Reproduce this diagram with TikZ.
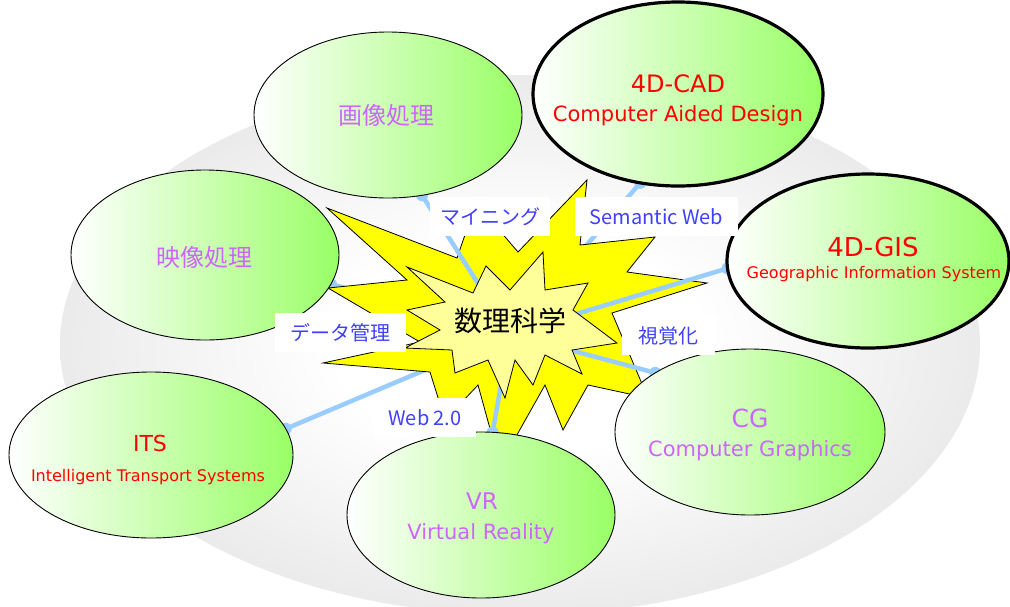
\documentclass[tikz,border=0pt]{standalone}
\usepackage{fontspec}
\setmainfont{DejaVu Sans}
\newfontfamily\jpfont{Noto Sans CJK JP}
\usetikzlibrary{shapes.geometric}

\definecolor{bubblegreen}{RGB}{153,255,102}
\definecolor{linkblue}{RGB}{153,204,255}
\definecolor{labelblue}{RGB}{64,64,255}
\definecolor{titleviolet}{RGB}{204,102,255}
\definecolor{titlered}{RGB}{255,0,0}
\definecolor{burstyellow}{RGB}{255,255,0}
\definecolor{corepale}{RGB}{255,255,153}

\pgfdeclarelayer{hazelayer}
\pgfdeclarelayer{lowlinks}
\pgfdeclarelayer{burstlayer}
\pgfdeclarelayer{highlinks}
\pgfdeclarelayer{corelayer}
\pgfsetlayers{hazelayer,lowlinks,burstlayer,highlinks,corelayer,main}

% soft grey glow behind the whole cluster
\pgfdeclareradialshading{haze}{\pgfpoint{0bp}{0bp}}{color(0bp)=(white); color(10bp)=(white); color(25bp)=(black!8); color(50bp)=(black!8)}

\tikzset{
  bubble/.style={ellipse, draw=black, line width=0.9pt, left color=white,
    right color=bubblegreen, inner sep=0pt, outer sep=0pt},
  keybubble/.style={bubble, line width=3.2pt},
  tag/.style={fill=white, inner sep=0pt, minimum height=39pt, text=labelblue,
    font=\jpfont\fontsize{20}{24}\selectfont},
  link/.style={draw=linkblue, line width=4.5pt},
  linkdot/.style={fill=linkblue},
  burst/.style={fill=burstyellow, draw=black, line width=0.8pt},
  corestar/.style={fill=corepale, draw=black, line width=0.8pt},
  jptitle/.style={text=titleviolet, inner sep=0pt,
    font=\jpfont\fontsize{24}{28}\selectfont},
  entitle/.style={anchor=base, inner sep=0pt},
}

\begin{document}
\begin{tikzpicture}[x=1pt,y=-1pt]
\useasboundingbox (0,0) rectangle (1010,606);

\begin{pgfonlayer}{hazelayer}
  \fill[white] (0,0) rectangle (1010,606);
  \shade[shading=haze] (520,345) ellipse [x radius=460pt, y radius=270pt];
\end{pgfonlayer}

% topic bubbles
\node[bubble,    minimum width=268pt, minimum height=166pt] (img) at (388,115) {};
\node[keybubble, minimum width=290pt, minimum height=184pt] (cad) at (678,94) {};
\node[bubble,    minimum width=268pt, minimum height=170pt] (vid) at (205,255) {};
\node[keybubble, minimum width=282pt, minimum height=174pt] (gis) at (868,261) {};
\node[bubble,    minimum width=284pt, minimum height=166pt] (its) at (151,455) {};
\node[bubble,    minimum width=268pt, minimum height=166pt] (vr)  at (481,515) {};
\node[bubble,    minimum width=270pt, minimum height=166pt] (cg)  at (750,432) {};

\coordinate (hub) at (510,334);

% connectors hidden behind the burst
\begin{pgfonlayer}{lowlinks}
  \draw[link] (hub) -- (its.11);
  \fill[linkdot] (its.11) circle[radius=6pt];
  \draw[link] (hub) -- (vid.347);
  \fill[linkdot] (vid.347) circle[radius=6pt];
  \draw[link] (hub) -- (cad.247);
  \fill[linkdot] (cad.247) circle[radius=6pt];
\end{pgfonlayer}

% outer burst
\begin{pgfonlayer}{burstlayer}
  \draw[burst] (327,208) -- (457,258) -- (476,203) -- (518,252) -- (587,180)
    -- (580,245) -- (655,237) -- (627,272) -- (707,283) -- (612,313)
    -- (648,398) -- (588,385) -- (563,430) -- (545,385) -- (500,465)
    -- (478,385) -- (445,420) -- (430,372) -- (323,363) -- (420,342)
    -- (328,288) -- (407,280) -- cycle;
\end{pgfonlayer}

% connectors drawn over the burst
\begin{pgfonlayer}{highlinks}
  \draw[link] (hub) -- (img.293);
  \fill[linkdot] (img.293) circle[radius=6pt];
  \draw[link] (hub) -- (gis.183);
  \fill[linkdot] (gis.183) circle[radius=6pt];
  \draw[link] (hub) -- (cg.148);
  \fill[linkdot] (cg.148) circle[radius=6pt];
  \draw[link] (hub) -- (vr.82);
  \fill[linkdot] (vr.82) circle[radius=6pt];
\end{pgfonlayer}

% inner star
\begin{pgfonlayer}{corelayer}
  \draw[corestar] (407,267) -- (473,293) -- (486,266) -- (510,290) -- (543,252)
    -- (545,290) -- (588,283) -- (573,310) -- (617,343) -- (572,350)
    -- (582,374) -- (545,355) -- (533,385) -- (515,360) -- (505,398)
    -- (488,360) -- (455,373) -- (452,350) -- (405,348) -- (440,330)
    -- (407,310) -- (445,302) -- cycle;
\end{pgfonlayer}

% connector labels
\node[tag, minimum width=120pt] (mining)   at (490,216.5) {マイニング};
\node[tag, minimum width=163pt] (semweb)   at (656.5,216.5) {Semantic Web};
\node[tag, minimum width=131pt] (datamgmt) at (340.5,332.5) {データ管理};
\node[tag, minimum width=93pt]  (visual)   at (668.5,335.5) {視覚化};
\node[tag, minimum width=102pt] (webtwo)   at (425,417.5) {Web 2.0};

% centre title
\node[inner sep=0pt, font=\jpfont\fontsize{28}{32}\selectfont] (coretext) at (510,321) {数理科学};

% bubble titles
\node[jptitle] (imgtext) at (386,115.5) {画像処理};
\node[jptitle] (vidtext) at (204,257) {映像処理};

\node[entitle, text=titlered, font=\fontsize{24}{28}\selectfont] (cadtitle) at (678,92) {4D-CAD};
\node[entitle, text=titlered, font=\fontsize{21}{25}\selectfont] (cadsub) at (678,121) {Computer Aided Design};

\node[entitle, text=titlered, font=\fontsize{26}{30}\selectfont] (gistitle) at (873,256) {4D-GIS};
\node[entitle, text=titlered, font=\fontsize{16}{19}\selectfont] (gissub) at (874,278) {Geographic Information System};

\node[entitle, text=titlered, font=\fontsize{22}{26}\selectfont] (itstitle) at (150,451) {ITS};
\node[entitle, text=titlered, font=\fontsize{16}{19}\selectfont] (itssub) at (148,481) {Intelligent Transport Systems};

\node[entitle, text=titleviolet, font=\fontsize{23}{27}\selectfont] (vrtitle) at (482,509) {VR};
\node[entitle, text=titleviolet, font=\fontsize{21}{25}\selectfont] (vrsub) at (481,539) {Virtual Reality};

\node[entitle, text=titleviolet, font=\fontsize{25}{29}\selectfont] (cgtitle) at (750,427) {CG};
\node[entitle, text=titleviolet, font=\fontsize{21}{25}\selectfont] (cgsub) at (750,456) {Computer Graphics};
\end{tikzpicture}
\end{document}
